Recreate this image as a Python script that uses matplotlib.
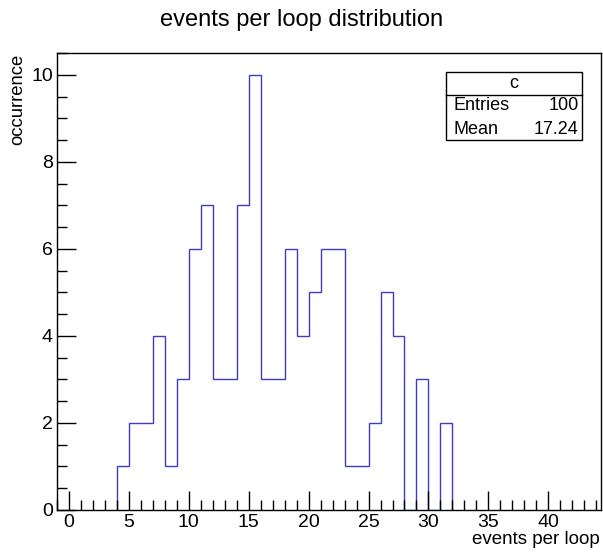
import numpy as np
import matplotlib
matplotlib.use("Agg")
import matplotlib.pyplot as plt

# histogram content, bins of width 1 starting at 4
bin_start = 4
counts = [1, 2, 2, 4, 1, 3, 6, 7, 3, 3, 7, 10, 3, 3, 6, 4, 5, 6, 6, 1, 1, 2, 5, 4, 0, 3, 0, 2]
entries = 100
mean = 17.24

plt.rcParams['font.family'] = ['Liberation Sans', 'DejaVu Sans']

fig = plt.figure(figsize=(6.03, 5.53), dpi=100)
ax = fig.add_axes([0.0945, 0.0778, 0.9022, 0.8262])

edges = np.arange(bin_start, bin_start + len(counts) + 1)
ax.stairs(counts, edges, baseline=0, color='#3c3cc4', linewidth=1)

ax.set_xlim(-1, 44.4)
ax.set_ylim(0, 10.5)
ax.set_xticks(np.arange(0, 45, 5))
ax.set_xticks(np.arange(-1, 45, 1), minor=True)
ax.set_yticks(np.arange(0, 11, 2))
ax.set_yticks(np.arange(0, 10.6, 0.5), minor=True)
ax.tick_params(which='both', direction='in', top=False, right=False, labelsize=14)
ax.tick_params(which='major', length=14, width=1)
ax.tick_params(which='minor', length=7, width=1)
ax.tick_params(axis='x', pad=3)
ax.tick_params(axis='y', pad=3)
for s in ax.spines.values():
    s.set_linewidth(1)

fig.text(0.5, 0.963, 'events per loop distribution', ha='center', va='center', fontsize=17)
fig.text(0.995, 0.025, 'events per loop', ha='right', va='center', fontsize=13.5)
fig.text(0.03, 0.902, 'occurrence', ha='center', va='top', rotation=90, fontsize=13.3)

# stats box
x0, x1 = 446 / 603, 582 / 603
y_top, y_mid, y_bot = 1 - 72 / 553, 1 - 95 / 553, 1 - 140 / 553
box = plt.Rectangle((x0, y_bot), x1 - x0, y_top - y_bot, transform=fig.transFigure,
                    fill=True, facecolor='white', edgecolor='black', linewidth=1)
fig.add_artist(box)
fig.add_artist(plt.Line2D([x0, x1], [y_mid, y_mid], transform=fig.transFigure,
                          color='black', linewidth=1))
fig.text((x0 + x1) / 2, (y_top + y_mid) / 2, 'c', ha='center', va='center', fontsize=13)
row1 = 1 - 106 / 553
row2 = 1 - 129 / 553
fig.text(x0 + 0.012, row1, 'Entries', ha='left', va='center', fontsize=13)
fig.text(x1 - 0.006, row1, str(entries), ha='right', va='center', fontsize=13)
fig.text(x0 + 0.012, row2, 'Mean', ha='left', va='center', fontsize=13)
fig.text(x1 - 0.006, row2, '%.2f' % mean, ha='right', va='center', fontsize=13)

fig.savefig('out.png', dpi=100)
